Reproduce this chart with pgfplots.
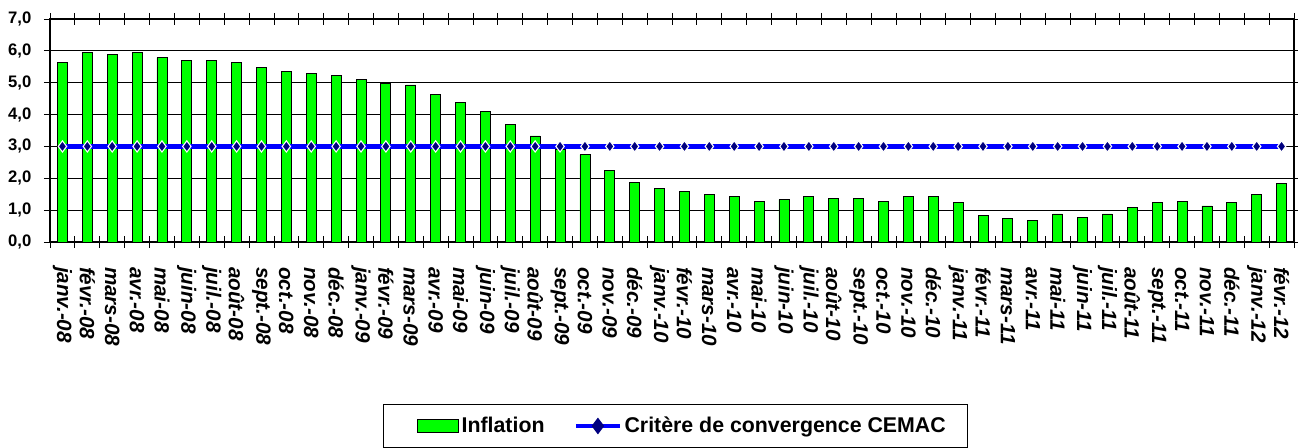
\documentclass[border=0pt]{standalone}
\usepackage{pgfplots}
\usepackage{pgfplotstable}
\pgfplotsset{compat=1.18}
\usepackage{fontspec}
\setmainfont{Liberation Sans}
\definecolor{barg}{RGB}{0,255,0}
\definecolor{lineb}{RGB}{0,0,255}
\definecolor{navyd}{RGB}{0,0,128}

\pgfplotstableread{
idx infl crit
0 5.64 3.0
1 5.95 3.0
2 5.89 3.0
3 5.96 3.0
4 5.79 3.0
5 5.69 3.0
6 5.69 3.0
7 5.64 3.0
8 5.49 3.0
9 5.34 3.0
10 5.29 3.0
11 5.24 3.0
12 5.09 3.0
13 4.98 3.0
14 4.93 3.0
15 4.63 3.0
16 4.39 3.0
17 4.10 3.0
18 3.69 3.0
19 3.33 3.0
20 2.90 3.0
21 2.74 3.0
22 2.24 3.0
23 1.88 3.0
24 1.68 3.0
25 1.58 3.0
26 1.48 3.0
27 1.42 3.0
28 1.27 3.0
29 1.33 3.0
30 1.42 3.0
31 1.38 3.0
32 1.38 3.0
33 1.27 3.0
34 1.43 3.0
35 1.43 3.0
36 1.23 3.0
37 0.83 3.0
38 0.73 3.0
39 0.68 3.0
40 0.88 3.0
41 0.77 3.0
42 0.88 3.0
43 1.08 3.0
44 1.23 3.0
45 1.27 3.0
46 1.13 3.0
47 1.23 3.0
48 1.48 3.0
49 1.84 3.0
}\datatable

\begin{document}
\begin{tikzpicture}
\begin{axis}[
  scale only axis,
  width=933pt, height=167.25pt,
  xmin=-0.5, xmax=49.5, ymin=0, ymax=7,
  ytick={0,1,...,7},
  xtick={0,1,...,49},
  xticklabels={janv.-08,févr.-08,mars-08,avr.-08,mai-08,juin-08,juil.-08,août-08,sept.-08,oct.-08,nov.-08,déc.-08,
    janv.-09,févr.-09,mars-09,avr.-09,mai-09,juin-09,juil.-09,août-09,sept.-09,oct.-09,nov.-09,déc.-09,
    janv.-10,févr.-10,mars-10,avr.-10,mai-10,juin-10,juil.-10,août-10,sept.-10,oct.-10,nov.-10,déc.-10,
    janv.-11,févr.-11,mars-11,avr.-11,mai-11,juin-11,juil.-11,août-11,sept.-11,oct.-11,nov.-11,déc.-11,
    janv.-12,févr.-12},
  minor xtick={-0.5,0.5,...,49.5},
  major x tick style={draw=none},
  minor tick length=9pt,
  xtick align=center,
  ytick align=outside,
  major tick length=4.5pt,
  tick style={black, line width=0.6pt},
  ymajorgrids,
  grid style={black, line width=0.6pt},
  axis line style={black, line width=0.8pt},
  yticklabel style={font=\fontsize{12.5}{14}\selectfont\bfseries, xshift=-6pt,
    /pgf/number format/fixed, /pgf/number format/fixed zerofill,
    /pgf/number format/precision=1, /pgf/number format/use comma,
    /pgf/number format/assume math mode=true},
  xticklabel style={rotate=-90, anchor=west, xshift=13pt, font=\fontsize{15.5}{17}\selectfont\bfseries\itshape},
  legend columns=2,
  legend style={at={(axis description cs:0.5028,-0.7265)}, anchor=north,
    draw=black, line width=0.75pt, font=\fontsize{16}{19}\selectfont\bfseries,
    inner xsep=14pt, inner ysep=7.5pt,
    /tikz/every even column/.append style={column sep=20pt}},
  legend cell align=left,
]
\addplot[ybar, bar width=7.5pt, fill=barg, draw=black, line width=0.6pt,
  legend image code/.code={\path (0pt,0pt); \draw[fill=barg,draw=black,line width=0.6pt] (11pt,-4.9pt) rectangle (41.75pt,4.9pt);}]
  table[x=idx,y=infl]{\datatable};
\addlegendentry{Inflation}
\addplot[lineb, line width=3.75pt, mark=diamond*, mark size=4.2pt,
  mark options={fill=navyd, draw=white, line width=0.8pt, solid},
  legend image code/.code={\draw[lineb,line width=3pt] (0pt,0pt) -- (33pt,0pt);
    \fill[navyd] (16.5pt,3.2pt) -- (18.9pt,0pt) -- (16.5pt,-3.2pt) -- (14.1pt,0pt) -- cycle;}]
  table[x=idx,y=crit]{\datatable};
\addlegendentry{Critère de convergence  CEMAC}
\end{axis}
\pgfresetboundingbox
\useasboundingbox (-37.5pt,-154.5pt) rectangle (936pt,181.5pt);
\end{tikzpicture}
\end{document}
